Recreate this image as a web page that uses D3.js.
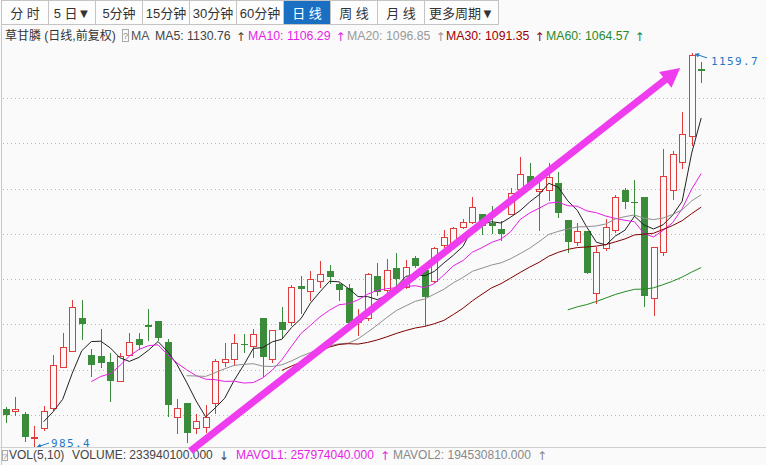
<!DOCTYPE html>
<html><head><meta charset="utf-8">
<script src="https://cdn.jsdelivr.net/npm/d3@7/dist/d3.min.js"></script>
<style>
html,body{margin:0;padding:0;background:#fafafa;overflow:hidden;}
svg{display:block;font-family:"Liberation Sans","Noto Sans CJK SC",sans-serif;}
</style></head><body>
<svg id="c" width="766" height="465"></svg>
<script>
// ---------------- data ----------------
const periods = ["分 时","5 日▼","5分钟","15分钟","30分钟","60分钟","日 线","周 线","月 线","更多周期▼"];
const selectedPeriod = "日 线";
const title = "草甘膦 (日线,前复权)";

const opens = [1002.6,1001.8,1000.4,990.0,994.1,1003.1,1021.2,1028.3,1042.8,1026.5,
1026.1,1023.4,1015.0,1026.5,1033.6,1039.7,1041.5,1032.2,999.1,1005.3,
994.3,994.7,1005.3,1023.4,1024.7,1031.4,1030.5,1042.8,1024.7,1041.1,
1041.1,1057.0,1054.8,1059.2,1063.6,1057.9,1056.1,1041.1,1042.8,1061.4,
1055.2,1064.9,1056.5,1069.3,1064.0,1059.2,1075.1,1076.0,1083.0,1085.2,
1088.8,1084.8,1082.1,1088.8,1099.8,1105.6,1098.9,1099.4,1102.5,1086.1,
1076.4,1081.3,1053.9,1073.8,1081.7,1099.4,1094.1,1096.3,1051.7,1072.0,
1099.4,1111.7,1123.2,1152.8];
const closes = [1000.0,1002.6,990.3,990.4,1001.9,1022.1,1030.0,1047.7,1040.2,1022.1,
1023.0,1015.0,1026.1,1032.2,1030.9,1038.9,1034.0,1004.4,1003.1,992.1,
997.4,999.1,1023.8,1024.7,1031.8,1030.9,1035.8,1025.6,1037.5,1037.5,
1056.5,1055.6,1060.1,1062.3,1060.9,1055.2,1040.6,1042.4,1062.3,1054.3,
1064.0,1060.1,1065.4,1065.8,1052.1,1073.8,1078.6,1082.6,1085.2,1091.9,
1083.5,1083.5,1079.9,1098.0,1106.4,1102.5,1099.8,1105.1,1089.2,1076.4,
1081.3,1062.7,1072.0,1083.0,1096.3,1094.1,1093.6,1052.6,1074.2,1105.6,
1115.3,1124.1,1159.0,1151.9];
const highs = [1003.5,1007.9,1001.3,995.1,1004.0,1026.5,1036.2,1050.8,1050.8,1029.1,
1038.0,1027.4,1027.4,1036.2,1036.2,1046.8,1041.5,1033.6,1007.1,1005.3,
1000.4,1004.4,1024.7,1031.8,1035.8,1035.8,1038.0,1042.8,1037.5,1047.7,
1057.4,1061.4,1063.6,1068.0,1066.2,1058.3,1057.9,1046.8,1062.7,1067.1,
1068.9,1071.5,1068.5,1070.2,1064.0,1074.2,1081.7,1083.0,1086.6,1096.3,
1088.8,1092.3,1085.7,1100.3,1113.9,1111.3,1105.1,1111.3,1107.3,1086.1,
1084.8,1081.3,1074.2,1086.6,1097.2,1100.3,1103.8,1096.3,1074.2,1117.5,
1116.6,1133.8,1159.7,1155.9];
const lows = [996.9,1000.0,988.5,985.4,993.4,1002.2,1021.2,1028.3,1033.6,1017.2,
1021.2,1006.2,1015.0,1026.5,1029.1,1033.1,1033.1,999.6,992.1,988.1,
992.1,992.5,1000.9,1021.6,1022.1,1027.8,1025.6,1017.2,1023.4,1034.0,
1039.7,1045.0,1050.8,1056.5,1058.3,1050.8,1039.7,1035.3,1042.0,1053.0,
1053.9,1056.5,1056.1,1065.4,1039.7,1058.7,1074.2,1076.0,1082.6,1084.8,
1079.9,1080.4,1077.3,1088.8,1099.4,1102.5,1081.7,1095.0,1087.4,1072.0,
1075.1,1062.7,1049.5,1072.9,1080.8,1091.4,1087.9,1048.1,1044.2,1070.7,
1095.4,1109.1,1119.2,1147.1];

const maPeriods = [5,10,20,30,60];
const maNames = ["MA5","MA10","MA20","MA30","MA60"];
const maValues = [1130.76,1106.29,1096.85,1091.35,1064.57];
const volNames = ["VOLUME","MAVOL1","MAVOL2"];
const volValues = ["233940100.000","257974040.000","194530810.000"];
const volArrows = ["↓","↑","↑"];
const priceTicks = [1000,1020,1040,1060,1080,1100,1120,1140];
const maxMark = {i:72, p:1159.7};
const minMark = {i:3, p:985.4};
const trendArrow = [{i:19.4, p:984.1},{i:70.8, p:1153.2}];

// ---------------- styles ----------------
const RED="#e03c3c", GREEN="#3a8c3a", BG="#fafafa";
const maColors = ["#222222","#e61ee6","#8f8f8f","#800000","#228b22"];
const maTextColors = ["#444444","#e61ee6","#999999","#a00000","#2a8a2a"];
const FS = 12.3;

const svg = d3.select("#c");
const n = closes.length;
const x = d3.scaleBand().domain(d3.range(n)).range([0.75, 0.75 + n*9.53]);
const xc = i => x(i) + x.step()/2;
const xl = v => 0.75 + (v+0.5)*x.step();
const y = d3.scaleLinear().domain([1000,1140]).range([415,98]);

// toolbar
let bx = 1.5;
const tb = svg.append("g");
periods.forEach(p=>{
  const w = p.length>4 ? 74 : 47;
  const sel = p===selectedPeriod;
  tb.append("rect").attr("x",bx).attr("y",0.5).attr("width",w).attr("height",24)
    .attr("fill", sel?"#1a6fc3":"#fdfdfd").attr("stroke","#c4c4c4");
  tb.append("text").attr("x",bx+w/2).attr("y",17.5).attr("text-anchor","middle")
    .attr("font-size",13).attr("fill",sel?"#fff":"#333").text(p);
  bx += w;
});

// frame
svg.append("line").attr("x1",1.5).attr("x2",1.5).attr("y1",25).attr("y2",465).attr("stroke","#c8c8c8");
svg.append("line").attr("x1",0).attr("x2",766).attr("y1",447.5).attr("y2",447.5).attr("stroke","#d0d0d0");

// info row
const info = svg.append("g").attr("font-size",FS);
info.append("text").attr("x",5).attr("y",40).attr("font-size",12).attr("fill","#333").text(title);
info.append("rect").attr("x",122.5).attr("y",29.5).attr("width",6).attr("height",12).attr("fill","none").attr("stroke","#aaa");
info.append("text").attr("x",125.5).attr("y",39).attr("font-size",9).attr("text-anchor","middle").attr("fill","#888").text("?");
info.append("text").attr("x",131).attr("y",40).attr("fill","#555").text("MA");
const maX = [155,248,347,446,546];
maNames.forEach((m,k)=>{
  const t = info.append("text").attr("x",maX[k]).attr("y",40).attr("fill",maTextColors[k]).text(`${m}: ${maValues[k].toFixed(2)}`);
  const w = t.node().getComputedTextLength();
  info.append("text").attr("x",maX[k]+w+5).attr("y",41).attr("fill",maTextColors[k]).attr("font-family","DejaVu Sans").attr("font-size",12).text("↑");
});

// bottom row
const bot = svg.append("g").attr("font-size",12);
bot.append("rect").attr("x",2.5).attr("y",450.5).attr("width",5).attr("height",10).attr("fill","none").attr("stroke","#aaa");
bot.append("text").attr("x",5).attr("y",459).attr("font-size",8).attr("text-anchor","middle").attr("fill","#888").text("?");
bot.append("text").attr("x",9).attr("y",459).attr("fill","#444").text("VOL(5,10)");
const volX = [72,236,393], volCol = ["#444","#e61ee6","#888"];
volNames.forEach((v,k)=>{
  const t = bot.append("text").attr("x",volX[k]).attr("y",459).attr("fill",volCol[k]).text(`${v}: ${volValues[k]}`);
  const w = t.node().getComputedTextLength();
  bot.append("text").attr("x",volX[k]+w+6).attr("y",460).attr("fill",volCol[k]).attr("font-family","DejaVu Sans").attr("font-size",12).text(volArrows[k]);
});

// chart area
svg.append("clipPath").attr("id","clip").append("rect").attr("x",2).attr("y",25).attr("width",764).attr("height",422);
const g = svg.append("g").attr("clip-path","url(#clip)");

priceTicks.forEach(t=>{
  const yy = Math.round(y(t))+0.5;
  g.append("line").attr("x1",3).attr("x2",766).attr("y1",yy).attr("y2",yy)
   .attr("stroke","#b8b8b8").attr("stroke-dasharray","1,3");
});

// candles
const cg = g.append("g");
d3.range(n).forEach(i=>{
  const cx = Math.round(xc(i))+0.5;
  const up = closes[i] >= opens[i];
  const col = up?RED:GREEN;
  cg.append("line").attr("x1",cx).attr("x2",cx)
    .attr("y1",Math.round(y(highs[i]))).attr("y2",Math.round(y(lows[i]))+1)
    .attr("stroke",col);
  const yo = Math.round(y(opens[i])), yc = Math.round(y(closes[i]));
  if(up){
    cg.append("rect").attr("x",cx-3).attr("width",6)
      .attr("y",yc+0.5).attr("height",Math.max(0,yo-yc))
      .attr("fill",BG).attr("stroke",col);
  } else {
    cg.append("rect").attr("x",cx-3.5).attr("width",7)
      .attr("y",yo).attr("height",Math.max(1,yc-yo)).attr("fill",col);
  }
});

// moving averages
maPeriods.forEach((p,k)=>{
  const vals = closes.map((c,i)=> i<p-1 ? null : d3.mean(closes.slice(i-p+1,i+1)));
  const line = d3.line().defined(d=>d!=null).x((d,i)=>xc(i)).y(d=>y(d));
  g.append("path").attr("d",line(vals)).attr("fill","none").attr("stroke",maColors[k]).attr("stroke-width",1);
});

// extreme labels
const LB="#1e78c8";
function mark(px,py,tx,ty,label,lx,ly){
  g.append("line").attr("x1",tx).attr("y1",ty).attr("x2",px).attr("y2",py).attr("stroke",LB);
  const a=Math.atan2(py-ty,px-tx), s=4;
  g.append("path").attr("d",`M${px},${py}L${px-s*Math.cos(a)+s*0.6*Math.sin(a)},${py-s*Math.sin(a)-s*0.6*Math.cos(a)}L${px-s*Math.cos(a)-s*0.6*Math.sin(a)},${py-s*Math.sin(a)+s*0.6*Math.cos(a)}Z`).attr("fill",LB);
  g.append("text").attr("x",lx).attr("y",ly).attr("fill",LB).attr("font-family","DejaVu Sans Mono")
   .attr("font-size",11).attr("letter-spacing",1.4).text(label);
}
{
  const px = Math.round(xc(maxMark.i))+3, py = y(maxMark.p)+0.5;
  mark(px,py,px+12,py+4,maxMark.p.toFixed(1),px+16,py+11);
  const qx = Math.round(xc(minMark.i))+3, qy = y(minMark.p)-1;
  mark(qx,qy,qx+12,qy-4,minMark.p.toFixed(1),qx+14,qy);
}

// trend arrow annotation
{
  const x0=xl(trendArrow[0].i), y0=y(trendArrow[0].p), x1=xl(trendArrow[1].i), y1=y(trendArrow[1].p);
  const a=Math.atan2(y1-y0,x1-x0), L=19, hw=10;
  const bxp=x1-L*Math.cos(a), byp=y1-L*Math.sin(a);
  const ag = svg.append("g");
  ag.append("line").attr("x1",x0).attr("y1",y0).attr("x2",bxp+2*Math.cos(a)).attr("y2",byp+2*Math.sin(a))
    .attr("stroke","#ee3cee").attr("stroke-width",7);
  ag.append("path").attr("d",`M${x1},${y1}L${bxp-hw*Math.sin(a)},${byp+hw*Math.cos(a)}L${bxp+hw*Math.sin(a)},${byp-hw*Math.cos(a)}Z`)
    .attr("fill","#ee3cee");
}
</script>
</body></html>
